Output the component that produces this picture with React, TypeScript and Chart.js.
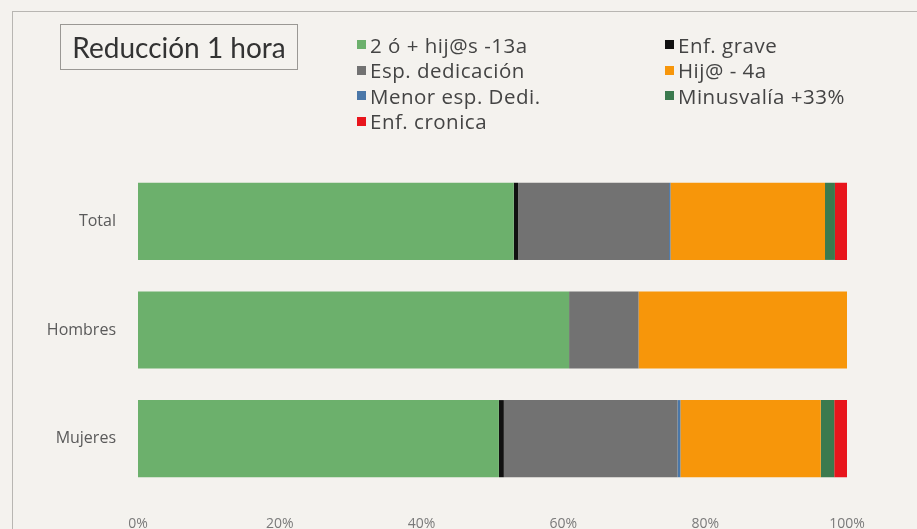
import React, { useEffect, useRef } from "react";
import { Chart, registerables } from "chart.js";

Chart.register(...registerables);

const categories = ["Total", "Hombres", "Mujeres"];
const seriesNames = [
  "2 ó + hij@s -13a",
  "Enf. grave",
  "Esp. dedicación",
  "Menor esp. Dedi.",
  "Hij@ - 4a",
  "Minusvalía +33%",
  "Enf. cronica",
];
const hijos13 = [53.0, 60.8, 50.9];
const enfGrave = [0.6, 0, 0.7];
const espDedicacion = [21.3, 9.8, 24.5];
const menorEspDedi = [0.2, 0, 0.4];
const hijo4 = [21.8, 29.4, 19.8];
const minusvalia = [1.4, 0, 1.9];
const enfCronica = [1.7, 0, 1.8];
const seriesColors = ["#6cb06c", "#111111", "#727272", "#4a77a8", "#f7960a", "#3b7a4e", "#e8151c"];
const xTicks = ["0%", "20%", "40%", "60%", "80%", "100%"];
const title = "Reducción 1 hora";
// legend layout (reading column-wise)
const legendCol1 = [0, 2, 3, 6];
const legendCol2 = [1, 4, 5];

export default function App() {
  const ref = useRef<HTMLCanvasElement>(null);
  useEffect(() => {
    const values = [hijos13, enfGrave, espDedicacion, menorEspDedi, hijo4, minusvalia, enfCronica];
    const chart = new Chart(ref.current!, {
      type: "bar",
      data: {
        labels: categories,
        datasets: seriesNames.map((n, i) => ({
          label: n,
          data: values[i],
          backgroundColor: seriesColors[i],
          borderWidth: 0,
          categoryPercentage: 1,
          barPercentage: 0.71,
        })),
      },
      options: {
        indexAxis: "y",
        animation: false,
        responsive: false,
        maintainAspectRatio: false,
        layout: { padding: { top: 167, right: 70, bottom: 0, left: 0 } },
        plugins: { legend: { display: false }, tooltip: { enabled: false }, title: { display: false } },
        scales: {
          x: {
            stacked: true,
            min: 0,
            max: 100,
            grid: { display: false },
            border: { display: false },
            afterFit: (s: any) => { s.height = 36; },
            ticks: {
              stepSize: 20,
              padding: 15,
              color: "#7a7a7a",
              font: { family: "'Open Sans'", size: 14 },
              callback: (_v: any, i: number) => xTicks[i],
            },
          },
          y: {
            stacked: true,
            grid: { display: false },
            border: { display: false },
            afterFit: (s: any) => { s.width = 138; },
            ticks: {
              padding: 14,
              color: "#5a5a5a",
              font: { family: "'Open Sans'", size: 16 },
            },
          },
        },
      },
    });
    return () => chart.destroy();
  }, []);

  const legendItem = (idx: number) => (
    <div key={idx} style={{ display: "flex", alignItems: "center", height: 25.5, whiteSpace: "nowrap" }}>
      <span style={{ width: 9, height: 9, background: seriesColors[idx], marginRight: 4, display: "inline-block", flex: "none" }} />
      <span>{seriesNames[idx]}</span>
    </div>
  );

  return (
    <div style={{ position: "fixed", left: 0, top: 0, width: 917, height: 529, background: "#f4f2ee", overflow: "hidden" }}>
      <div style={{ position: "absolute", left: 12, top: 11, width: 940, height: 560, borderTop: "1.5px solid #b8b6b2", borderLeft: "1.5px solid #b8b6b2" }} />
      <canvas ref={ref} width={917} height={529} style={{ position: "absolute", left: 0, top: 0 }} />
      <div style={{ position: "absolute", left: 60, top: 24, width: 236, height: 44, border: "1.5px solid #9a9894", display: "flex", alignItems: "center", justifyContent: "center", fontFamily: "Lato", fontSize: 28, color: "#333", whiteSpace: "nowrap" }}>
        {title}
      </div>
      <div style={{ position: "absolute", left: 357, top: 32, fontFamily: "Open Sans", fontSize: 20.5, color: "#444", letterSpacing: 0.5 }}>
        {legendCol1.map(legendItem)}
      </div>
      <div style={{ position: "absolute", left: 665, top: 32, fontFamily: "Open Sans", fontSize: 20.5, color: "#444", letterSpacing: 0.5 }}>
        {legendCol2.map(legendItem)}
      </div>
    </div>
  );
}
